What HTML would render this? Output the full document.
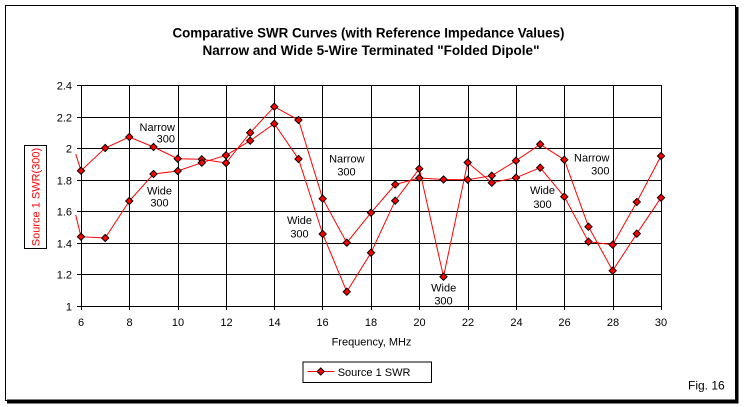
<!DOCTYPE html>
<html>
<head>
<meta charset="utf-8">
<style>
html,body{margin:0;padding:0;background:#fff;}
svg{display:block;}
text{font-family:"Liberation Sans",Arial,sans-serif;}
</style>
</head>
<body>
<svg width="744" height="407" viewBox="0 0 744 407" xmlns="http://www.w3.org/2000/svg">
<rect x="0" y="0" width="744" height="407" fill="#fff"/>
<!-- outer frame with shadow -->
<rect x="5.5" y="5.5" width="730" height="395" fill="#fff" stroke="#000" stroke-width="1"/>
<rect x="735" y="7" width="3.5" height="396.5" fill="#000"/>
<rect x="7" y="399.5" width="731.5" height="4" fill="#000"/>

<!-- title -->
<text x="368.5" y="37.5" font-size="13.5" font-weight="bold" text-anchor="middle" textLength="392" lengthAdjust="spacingAndGlyphs">Comparative SWR Curves (with Reference Impedance Values)</text>
<text x="371" y="55" font-size="13.5" font-weight="bold" text-anchor="middle" textLength="337" lengthAdjust="spacingAndGlyphs">Narrow and Wide 5-Wire Terminated "Folded Dipole"</text>

<!-- gridlines -->
<g stroke="#000" stroke-width="1" fill="none">
<line x1="81" y1="85.5" x2="661.5" y2="85.5"/>
<line x1="81" y1="117.5" x2="661.5" y2="117.5"/>
<line x1="81" y1="148.5" x2="661.5" y2="148.5"/>
<line x1="81" y1="180.5" x2="661.5" y2="180.5"/>
<line x1="81" y1="211.5" x2="661.5" y2="211.5"/>
<line x1="81" y1="243.5" x2="661.5" y2="243.5"/>
<line x1="81" y1="274.5" x2="661.5" y2="274.5"/>
<line x1="81" y1="306.5" x2="661.5" y2="306.5"/>
<line x1="81.5" y1="85" x2="81.5" y2="310"/>
<line x1="129.5" y1="85" x2="129.5" y2="310"/>
<line x1="178.5" y1="85" x2="178.5" y2="310"/>
<line x1="226.5" y1="85" x2="226.5" y2="310"/>
<line x1="274.5" y1="85" x2="274.5" y2="310"/>
<line x1="322.5" y1="85" x2="322.5" y2="310"/>
<line x1="371.5" y1="85" x2="371.5" y2="310"/>
<line x1="419.5" y1="85" x2="419.5" y2="310"/>
<line x1="468.5" y1="85" x2="468.5" y2="310"/>
<line x1="516.5" y1="85" x2="516.5" y2="310"/>
<line x1="564.5" y1="85" x2="564.5" y2="310"/>
<line x1="613.5" y1="85" x2="613.5" y2="310"/>
<line x1="661.5" y1="85" x2="661.5" y2="310"/>
<!-- y ticks -->
<line x1="77" y1="85.5" x2="81" y2="85.5"/>
<line x1="77" y1="117.5" x2="81" y2="117.5"/>
<line x1="77" y1="148.5" x2="81" y2="148.5"/>
<line x1="77" y1="180.5" x2="81" y2="180.5"/>
<line x1="77" y1="211.5" x2="81" y2="211.5"/>
<line x1="77" y1="243.5" x2="81" y2="243.5"/>
<line x1="77" y1="274.5" x2="81" y2="274.5"/>
<line x1="77" y1="306.5" x2="81" y2="306.5"/>
</g>

<!-- y tick labels -->
<g font-size="11" text-anchor="end" fill="#000">
<text x="72" y="89.5">2.4</text>
<text x="72" y="121.5">2.2</text>
<text x="72" y="152.5">2</text>
<text x="72" y="184.5">1.8</text>
<text x="72" y="215.5">1.6</text>
<text x="72" y="247.5">1.4</text>
<text x="72" y="278.5">1.2</text>
<text x="72" y="310.5">1</text>
</g>
<!-- x tick labels -->
<g font-size="11" text-anchor="middle" fill="#000">
<text x="81" y="326">6</text>
<text x="129.5" y="326">8</text>
<text x="178" y="326">10</text>
<text x="226.5" y="326">12</text>
<text x="274.5" y="326">14</text>
<text x="322.5" y="326">16</text>
<text x="371" y="326">18</text>
<text x="419.5" y="326">20</text>
<text x="468" y="326">22</text>
<text x="516.5" y="326">24</text>
<text x="564.5" y="326">26</text>
<text x="613" y="326">28</text>
<text x="661" y="326">30</text>
</g>
<text x="371.5" y="345.5" font-size="11" text-anchor="middle">Frequency, MHz</text>

<!-- y axis title -->
<rect x="24.5" y="145.5" width="22" height="103" fill="#fff" stroke="#000" stroke-width="1"/>
<text transform="translate(39.5,197) rotate(-90)" font-size="11" fill="#ff0000" text-anchor="middle">Source 1 SWR(300)</text>

<!-- series -->
<g fill="none" stroke="#ff0000" stroke-width="1">
<polyline points="75.7,154 81,170.7 105.2,148 129.3,137 153.5,147 177.7,158.7 201.8,159.3 226,163 250.2,132.7 274.3,106.7 298.5,120 322.7,198.7 346.8,242.7 371,212.7 395.2,184.5 419.3,178 443.5,179.5 467.7,179.7 491.8,175.7 516,160.7 540.2,144.3 564.3,159.7 588.5,226.7 612.7,270.7 636.8,233.7 661,197.7"/>
<polyline points="75.7,215 81,236.7 105.2,238 129.3,201 153.5,174 177.7,171 201.8,162.7 226,155.3 250.2,140.7 274.3,123.7 298.5,159 322.7,234 346.8,291.7 371,252.7 395.2,200.7 419.3,168.7 443.5,276.7 467.7,162.5 491.8,182.7 516,177.7 540.2,167.7 564.3,196.7 588.5,241.7 612.7,244.7 636.8,202 661,156"/>
</g>

<!-- markers -->
<defs>
<path id="m" d="M0,-3.6 L3.6,0 L0,3.6 L-3.6,0 Z" fill="#ff0000" stroke="#000" stroke-width="1"/>
</defs>
<g>
<use href="#m" x="81" y="170.7"/><use href="#m" x="105.2" y="148"/><use href="#m" x="129.3" y="137"/><use href="#m" x="153.5" y="147"/><use href="#m" x="177.7" y="158.7"/><use href="#m" x="201.8" y="159.3"/><use href="#m" x="226" y="163"/><use href="#m" x="250.2" y="132.7"/><use href="#m" x="274.3" y="106.7"/><use href="#m" x="298.5" y="120"/><use href="#m" x="322.7" y="198.7"/><use href="#m" x="346.8" y="242.7"/><use href="#m" x="371" y="212.7"/><use href="#m" x="395.2" y="184.5"/><use href="#m" x="419.3" y="178"/><use href="#m" x="443.5" y="179.5"/><use href="#m" x="467.7" y="179.7"/><use href="#m" x="491.8" y="175.7"/><use href="#m" x="516" y="160.7"/><use href="#m" x="540.2" y="144.3"/><use href="#m" x="564.3" y="159.7"/><use href="#m" x="588.5" y="226.7"/><use href="#m" x="612.7" y="270.7"/><use href="#m" x="636.8" y="233.7"/><use href="#m" x="661" y="197.7"/>
<use href="#m" x="81" y="236.7"/><use href="#m" x="105.2" y="238"/><use href="#m" x="129.3" y="201"/><use href="#m" x="153.5" y="174"/><use href="#m" x="177.7" y="171"/><use href="#m" x="201.8" y="162.7"/><use href="#m" x="226" y="155.3"/><use href="#m" x="250.2" y="140.7"/><use href="#m" x="274.3" y="123.7"/><use href="#m" x="298.5" y="159"/><use href="#m" x="322.7" y="234"/><use href="#m" x="346.8" y="291.7"/><use href="#m" x="371" y="252.7"/><use href="#m" x="395.2" y="200.7"/><use href="#m" x="419.3" y="168.7"/><use href="#m" x="443.5" y="276.7"/><use href="#m" x="467.7" y="162.5"/><use href="#m" x="491.8" y="182.7"/><use href="#m" x="516" y="177.7"/><use href="#m" x="540.2" y="167.7"/><use href="#m" x="564.3" y="196.7"/><use href="#m" x="588.5" y="241.7"/><use href="#m" x="612.7" y="244.7"/><use href="#m" x="636.8" y="202"/><use href="#m" x="661" y="156"/>
</g>

<!-- annotations -->
<g font-size="11" fill="#000">
<text x="175" y="131" text-anchor="end">Narrow</text>
<text x="175" y="142.7" text-anchor="end">300</text>
<text x="159.5" y="194.3" text-anchor="middle">Wide</text>
<text x="159.5" y="206.7" text-anchor="middle">300</text>
<text x="346.8" y="162.3" text-anchor="middle">Narrow</text>
<text x="346.5" y="175.3" text-anchor="middle">300</text>
<text x="299.5" y="224" text-anchor="middle">Wide</text>
<text x="299.5" y="237.7" text-anchor="middle">300</text>
<text x="443.7" y="291.3" text-anchor="middle">Wide</text>
<text x="443.5" y="304.7" text-anchor="middle">300</text>
<text x="542.5" y="194" text-anchor="middle">Wide</text>
<text x="542.5" y="208" text-anchor="middle">300</text>
<text x="609.5" y="161.3" text-anchor="end">Narrow</text>
<text x="609.5" y="174.7" text-anchor="end">300</text>
</g>

<!-- legend -->
<rect x="303" y="362" width="128.5" height="20.5" fill="#fff" stroke="#000" stroke-width="1"/>
<line x1="307.5" y1="371.5" x2="334.5" y2="371.5" stroke="#ff0000" stroke-width="1"/>
<use href="#m" x="320.7" y="371.5"/>
<text x="337.7" y="376" font-size="11">Source 1 SWR</text>

<text x="688" y="389.5" font-size="12">Fig. 16</text>
</svg>
</body>
</html>
